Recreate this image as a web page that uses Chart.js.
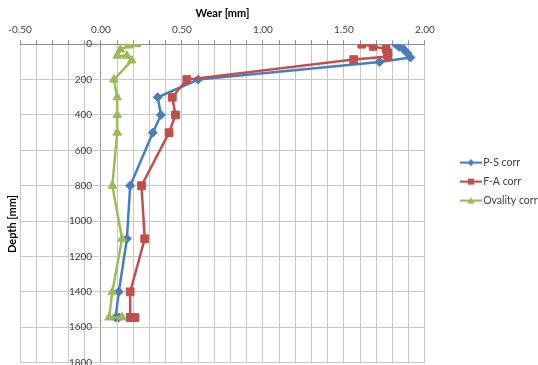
<!DOCTYPE html>
<html><head><meta charset="utf-8">
<script src="https://cdn.jsdelivr.net/npm/chart.js@4"></script>
<style>html,body{margin:0;padding:0;background:#fff;overflow:hidden}#wrap{width:538px;height:365px;position:relative}</style>
</head><body><div id="wrap"><canvas id="c"></canvas></div>
<script>
// ---- data ----
const seriesNames = ['P-S corr', 'F-A corr', 'Ovality corr'];
const psDepth = [0, 15, 30, 50, 75, 100, 200, 300, 400, 500, 800, 1100, 1400, 1545, 1545];
const psWear  = [1.82, 1.84, 1.87, 1.89, 1.91, 1.72, 0.60, 0.35, 0.37, 0.32, 0.18, 0.16, 0.11, 0.09, 0.11];
const faDepth = [0, 12, 27, 49, 70, 87, 200, 300, 400, 500, 800, 1100, 1400, 1545, 1545];
const faWear  = [1.61, 1.68, 1.76, 1.77, 1.77, 1.56, 0.53, 0.44, 0.46, 0.42, 0.25, 0.27, 0.18, 0.18, 0.21];
const ovDepth = [0, 8, 30, 65, 65, 92, 200, 300, 400, 500, 800, 1100, 1400, 1545, 1545];
const ovWear  = [0.22, 0.17, 0.12, 0.10, 0.16, 0.19, 0.08, 0.10, 0.10, 0.10, 0.07, 0.13, 0.07, 0.05, 0.13];
const xMajorTicks = [-0.5, 0, 0.5, 1.0, 1.5, 2.0];
const xTickLabels = ['-0.50', '0.00', '0.50', '1.00', '1.50', '2.00'];
const xTitle = 'Wear [mm]';
const yTitle = 'Depth [mm]';

const colors = ['#4A7EBB', '#C0504D', '#9BBB59'];
const styles = ['rectRot', 'rect', 'triangle'];
const radii = [4.5, 5.5, 5];

function pts(d, w) { return d.map((v, i) => ({x: w[i], y: v})); }

function legendIcon(color, style) {
  const c = document.createElement('canvas');
  c.width = 22; c.height = 10;
  const g = c.getContext('2d');
  g.strokeStyle = color; g.lineWidth = 2.2;
  g.beginPath(); g.moveTo(0, 5); g.lineTo(22, 5); g.stroke();
  g.fillStyle = color;
  g.beginPath();
  if (style === 'rectRot') { g.moveTo(11, 1.5); g.lineTo(14.5, 5); g.lineTo(11, 8.5); g.lineTo(7.5, 5); }
  else if (style === 'rect') { g.rect(8, 2, 6, 6); }
  else { g.moveTo(11, 1.5); g.lineTo(14.5, 8); g.lineTo(7.5, 8); }
  g.closePath(); g.fill();
  return c;
}

const bgPlugin = {id: 'bg', beforeDraw(chart) { const x = chart.ctx; x.save(); x.fillStyle = '#fff'; x.fillRect(0, 0, chart.width, chart.height); x.restore(); }};
const yTitlePlugin = {id: 'ytitle', afterDraw(chart) {
  const x = chart.ctx; x.save(); x.translate(12, 224); x.rotate(-Math.PI / 2);
  x.font = 'bold 11px Lato'; x.fillStyle = '#000'; x.textAlign = 'center'; x.textBaseline = 'middle';
  x.fillText(yTitle, 0, 0); x.restore();
}};

const datasets = [[psDepth, psWear], [faDepth, faWear], [ovDepth, ovWear]].map((s, i) => ({
  label: seriesNames[i], data: pts(s[0], s[1]), showLine: true,
  borderColor: colors[i], backgroundColor: colors[i], borderWidth: 2.5,
  pointStyle: styles[i], pointRadius: radii[i], pointBorderWidth: 1,
  pointBackgroundColor: colors[i], pointBorderColor: colors[i], tension: 0,
  order: 2 - i
}));

const icons = colors.map((c, i) => legendIcon(c, styles[i]));
const gridColor = '#c8c8c8';

new Chart(document.getElementById('c'), {
  type: 'scatter',
  data: {datasets},
  plugins: [bgPlugin, yTitlePlugin],
  options: {
    responsive: true, maintainAspectRatio: false, animation: false, devicePixelRatio: 1,
    layout: {autoPadding: false, padding: {left: 20, top: 0.6, bottom: 2.4, right: -4.5}},
    plugins: {
      tooltip: {enabled: false},
      legend: {
        position: 'right', align: 'center', maxHeight: 303,
        labels: {
          usePointStyle: true, pointStyleWidth: 14, padding: 8.5,
          font: {family: 'Lato', size: 10.5}, color: '#404040',
          generateLabels: (chart) => chart.data.datasets.map((d, i) => ({
            text: d.label, fillStyle: d.borderColor, strokeStyle: d.borderColor, lineWidth: 0,
            pointStyle: icons[i], hidden: false, datasetIndex: i, fontColor: '#404040'
          }))
        }
      }
    },
    scales: {
      x: {
        type: 'linear', position: 'top', min: -0.5, max: 2.0,
        title: {display: true, text: xTitle, color: '#000', font: {family: 'Lato', size: 11, weight: 'bold'}, padding: {top: 6.4, bottom: 0}},
        ticks: {
          stepSize: 0.1, autoSkip: false, maxRotation: 0, padding: 4, color: '#404040',
          font: {family: 'Lato', size: 10},
          callback: (v) => { const k = xMajorTicks.findIndex(t => Math.abs(t - v) < 1e-6); return k >= 0 ? xTickLabels[k] : ''; }
        },
        grid: {
          color: (ctx) => (ctx.tick && Math.abs(ctx.tick.value) < 1e-6) ? '#9a9a9a' : gridColor,
          tickColor: '#8c8c8c', tickLength: 4, lineWidth: 1
        },
        border: {display: true, color: '#8c8c8c', width: 1}
      },
      y: {
        type: 'linear', axis: 'y', position: {x: -0.055}, min: 0, max: 1800, reverse: true,
        ticks: {stepSize: 200, padding: 0, color: '#404040', font: {family: 'Lato', size: 10}, callback: (v) => String(v)},
        grid: {color: gridColor, drawTicks: false, lineWidth: 1},
        border: {display: false},
        afterFit: (s) => { s.width = 0; s.paddingTop = 0; s.paddingBottom = 0; }
      },
      y2: {
        type: 'linear', axis: 'y', position: 'right', display: true, min: 0, max: 1800,
        ticks: {display: false}, grid: {display: false, drawTicks: false}, border: {display: false},
        afterFit: (s) => { s.width = 30.45; s.paddingTop = 0; s.paddingBottom = 0; }
      }
    }
  }
});
</script>
</body></html>
